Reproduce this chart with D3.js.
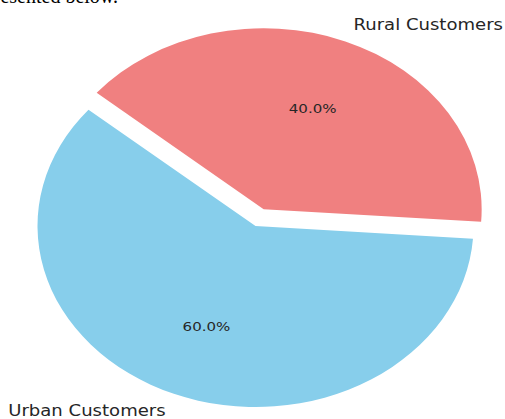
<!DOCTYPE html>
<html>
<head>
<meta charset="utf-8">
<script src="https://cdn.jsdelivr.net/npm/d3@7"></script>
<style>
  body { margin: 0; background: #fff; }
  svg { display: block; }
</style>
</head>
<body>
<div id="chart"></div>
<script>
var categories = ["Urban Customers", "Rural Customers"];
var values = [60, 40];
var colors = ["#87CEEB", "#F08080"];
var explode = [0, 0.1];

var width = 505,
    height = 419;

// matplotlib-like pie: startangle 140 (ccw from +x), stretched to an ellipse
var cx = 255.5,
    cy = 226,
    rx = 218,
    ry = 181,
    stretch = rx / ry;

var deg = Math.PI / 180;
var start = (90 - 140) * deg;

var svg = d3.select("#chart").append("svg")
    .attr("width", width)
    .attr("height", height);

// clipped line of text above the chart
svg.append("text")
    .attr("x", 118)
    .attr("y", 3)
    .attr("text-anchor", "end")
    .attr("font-family", "Liberation Serif")
    .attr("font-size", 20)
    .attr("fill", "#000")
    .text("are presented below.");

var pie = d3.pie()
    .sort(null)
    .startAngle(start)
    .endAngle(start - 2 * Math.PI)
    .value(function (d) { return d; });

var arcs = pie(values);

var arc = d3.arc()
    .innerRadius(0)
    .outerRadius(rx);

var g = svg.append("g")
    .attr("transform", "translate(" + cx + "," + cy + ") scale(1," + (ry / rx) + ")");

g.selectAll("path")
    .data(arcs)
    .enter().append("path")
    .attr("transform", function (d, i) {
        var m = (d.startAngle + d.endAngle) / 2;
        var off = explode[i] * rx;
        return "translate(" + (off * Math.sin(m)) + "," + (-off * Math.cos(m)) + ")";
    })
    .attr("fill", function (d, i) { return colors[i]; })
    .attr("d", arc);

function pos(d, i, f) {
    var m = (d.startAngle + d.endAngle) / 2;
    var r = f + explode[i];
    return [cx + rx * r * Math.sin(m), cy - ry * r * Math.cos(m)];
}

function place(f) {
    return function (d, i) {
        var p = pos(d, i, f);
        return "translate(" + p[0] + "," + p[1] + ") scale(" + stretch + ",1)";
    };
}

// percentage labels
svg.append("g")
    .selectAll("text")
    .data(arcs)
    .enter().append("text")
    .attr("transform", place(0.6))
    .attr("dy", "0.35em")
    .attr("text-anchor", "middle")
    .attr("font-family", "DejaVu Sans")
    .attr("font-size", 12.5)
    .attr("fill", "#262626")
    .text(function (d) { return d3.format(".1f")(d.data) + "%"; });

// category labels
svg.append("g")
    .selectAll("text")
    .data(arcs)
    .enter().append("text")
    .attr("transform", place(1.1))
    .attr("dy", "0.35em")
    .attr("text-anchor", function (d, i) { return pos(d, i, 1.1)[0] < cx ? "end" : "start"; })
    .attr("font-family", "DejaVu Sans")
    .attr("font-size", 15)
    .attr("fill", "#262626")
    .text(function (d, i) { return categories[i]; });
</script>
</body>
</html>
